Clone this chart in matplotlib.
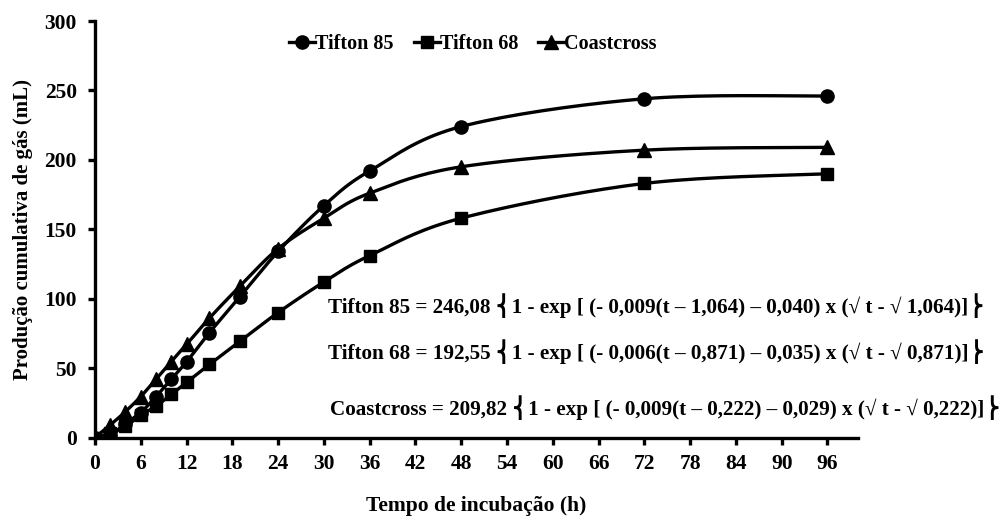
import numpy as np
import matplotlib
matplotlib.use("Agg")
import matplotlib.pyplot as plt
from matplotlib.lines import Line2D

plt.rcParams['font.family'] = ['Liberation Serif', 'DejaVu Serif', 'DejaVu Sans']
plt.rcParams['font.weight'] = 'bold'

# ---- data ----
hours = [0, 2, 4, 6, 8, 10, 12, 15, 19, 24, 30, 36, 48, 72, 96]
tifton85 = [0, 2, 10, 18, 29.5, 42, 54.5, 75.5, 101.5, 134, 167, 192, 224, 244, 246]
tifton68 = [0, 3, 8, 16, 22.6, 31, 39.7, 52.6, 69.3, 90, 112, 131, 158, 183, 190]
coastcross = [0, 9, 18.7, 29.5, 42, 54.7, 67, 86, 109, 136, 158, 176, 195, 207, 209]
series_names = ['Tifton 85', 'Tifton 68', 'Coastcross']
xticks = list(range(0, 97, 6))
yticks = list(range(0, 301, 50))
equations = [
    "Tifton 85 = 246,08 \u23A81 - exp [ (- 0,009(t \u2013 1,064) \u2013 0,040) x (\u221A t - \u221A 1,064)]\u23AC",
    "Tifton 68 = 192,55 \u23A81 - exp [ (- 0,006(t \u2013 0,871) \u2013 0,035) x (\u221A t - \u221A 0,871)]\u23AC",
    "Coastcross = 209,82 \u23A81 - exp [ (- 0,009(t \u2013 0,222) \u2013 0,029) x (\u221A t - \u221A 0,222)]\u23AC",
]


def smooth(xs, ys, n=20, sx=100.0, sy=300.0):
    """Excel-like smoothed line (Bezier through points, tension 1/6)."""
    P = np.column_stack([np.asarray(xs, float) / sx, np.asarray(ys, float) / sy])
    out = [P[0]]
    for i in range(len(P) - 1):
        p0 = P[i - 1] if i > 0 else P[i]
        p1 = P[i]
        p2 = P[i + 1]
        p3 = P[i + 2] if i + 2 < len(P) else P[i + 1]
        c1 = p1 + (p2 - p0) / 6.0
        c2 = p2 - (p3 - p1) / 6.0
        t = np.linspace(0, 1, n)[1:, None]
        b = ((1 - t) ** 3) * p1 + 3 * ((1 - t) ** 2) * t * c1 + 3 * (1 - t) * t ** 2 * c2 + t ** 3 * p2
        out.extend(b)
    out = np.array(out)
    return out[:, 0] * sx, out[:, 1] * sy


fig = plt.figure(figsize=(10.06, 5.19), dpi=100)
ax = fig.add_axes([0.0944, 0.157, 0.7585, 0.8025])

markers = ['o', 's', '^']
msizes = [9.5, 9.0, 10.5]
data = [tifton85, tifton68, coastcross]
handles = []
for name, ys, m, ms in zip(series_names, data, markers, msizes):
    sx_, sy_ = smooth(hours, ys)
    ax.plot(sx_, sy_, color='black', lw=2.4, solid_capstyle='round', zorder=2)
    ax.plot(hours, ys, linestyle='none', marker=m, color='black', ms=ms, zorder=3)
    handles.append(Line2D([0], [0], color='black', lw=2.4, marker=m, ms=ms))

ax.set_xlim(0, 100)
ax.set_ylim(0, 300)
ax.set_xticks(xticks)
ax.set_yticks(yticks)
for s in ['top', 'right']:
    ax.spines[s].set_visible(False)
for s in ['left', 'bottom']:
    ax.spines[s].set_linewidth(2.4)
ax.tick_params(axis='both', direction='out', width=2.4, length=5, labelsize=15.5)
ax.tick_params(axis='y', pad=8)
ax.tick_params(axis='x', pad=7)
for lab in ax.get_xticklabels() + ax.get_yticklabels():
    lab.set_fontweight('bold')

ax.set_xlabel('Tempo de incubação (h)', fontsize=15.5, fontweight='bold', labelpad=16)
ax.set_ylabel('Produção cumulativa de gás (mL)', fontsize=15, fontweight='bold', labelpad=8)

fig.legend(handles, series_names, loc='center', bbox_to_anchor=(0.470, 0.915), ncol=3,
           frameon=False, handlelength=1.3, handletextpad=0.0, columnspacing=1.0,
           prop={'weight': 'bold', 'size': 14.5})

eq_pos = [(0.326, 0.412), (0.326, 0.322), (0.328, 0.214)]
for txt, (x, y) in zip(equations, eq_pos):
    fig.text(x, y, txt, ha='left', va='center', fontsize=15.2, fontweight='bold')

fig.savefig('out.png', dpi=100)
